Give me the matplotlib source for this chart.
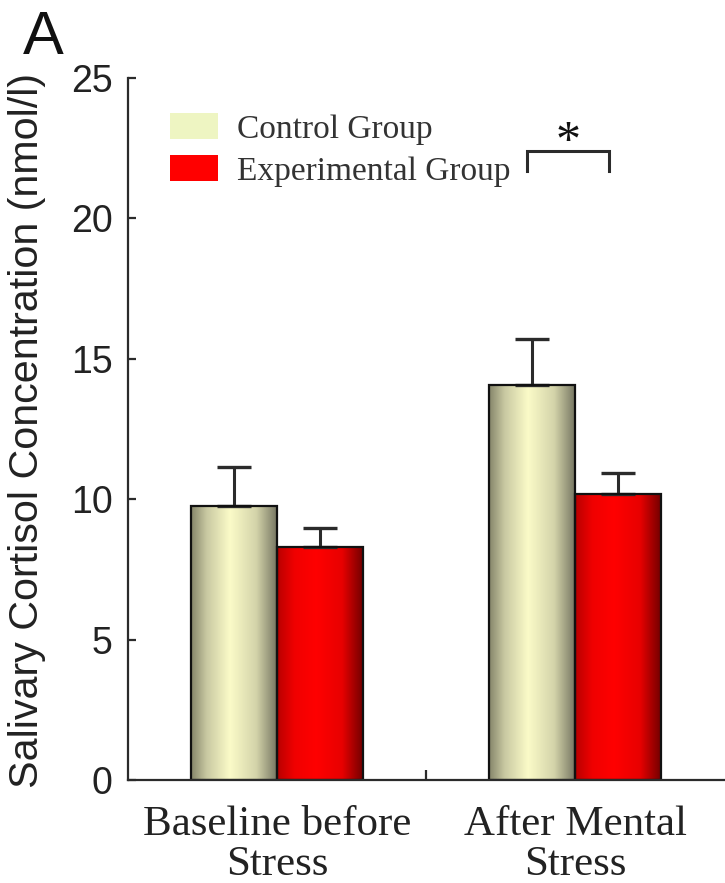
import numpy as np
import matplotlib
matplotlib.use("Agg")
import matplotlib.pyplot as plt
from matplotlib.colors import LinearSegmentedColormap
from matplotlib.patches import Rectangle

# ---------- data ----------
conditions = ["Baseline before\nStress", "After Mental\nStress"]
groups = ["Control Group", "Experimental Group"]
control_mean = [9.75, 14.05]
control_se = [1.4, 1.65]
exp_mean = [8.3, 10.2]
exp_se = [0.67, 0.75]

# significance bracket over the second condition
sig_x = [1.34, 1.615]
sig_y = [21.7, 22.4]
sig_label = "*"

# ---------- styles ----------
SERIF = "Liberation Serif"
SANS = "Liberation Sans"
INK = "#2b2b2b"
legend_colors = ["#eef5c2", "#ff0000"]
shade_control = LinearSegmentedColormap.from_list(
    "ctl", [(0.0, "#85856a"), (0.18, "#c9c9a2"), (0.45, "#fbfbc8"),
            (0.75, "#d4d4aa"), (1.0, "#737360")])
shade_exp = LinearSegmentedColormap.from_list(
    "exp", [(0.0, "#b80000"), (0.2, "#f00000"), (0.45, "#ff0000"),
            (0.75, "#e80000"), (1.0, "#6e0000")])

bar_w = 0.29
x = np.arange(len(conditions)) + 0.5

fig = plt.figure(figsize=(7.25, 8.83), dpi=100)
ax = fig.add_axes([128 / 725, 1 - 780 / 883, 596 / 725, 702 / 883])

# shaded bars: a horizontal gradient image under each outlined bar
grad = np.linspace(0, 1, 256).reshape(1, -1)
for means, ses, cmap, off in [(control_mean, control_se, shade_control, -bar_w / 2),
                              (exp_mean, exp_se, shade_exp, bar_w / 2)]:
    xs = x + off
    for xi, m in zip(xs, means):
        ax.imshow(grad, cmap=cmap, aspect="auto", extent=[xi - bar_w / 2, xi + bar_w / 2, 0, m],
                  zorder=1, interpolation="bilinear")
    ax.bar(xs, means, width=bar_w, facecolor="none", edgecolor="#111111", linewidth=1.6, zorder=2)
    ax.errorbar(xs, means, yerr=[np.zeros(len(ses)), ses], fmt="none", ecolor=INK,
                elinewidth=2.2, capsize=12, capthick=2.4, zorder=1.5)

ax.set_xlim(0, 2)
ax.set_ylim(0, 25)

# axes styling
for s in ["top", "right"]:
    ax.spines[s].set_visible(False)
for s in ["left", "bottom"]:
    ax.spines[s].set_color(INK)
    ax.spines[s].set_linewidth(1.6)

ax.set_yticks([0, 5, 10, 15, 20, 25])
ax.tick_params(axis="y", direction="in", length=6, width=1.6, color=INK, pad=11,
               labelsize=27, labelcolor="#222222")
for lbl in ax.get_yticklabels():
    lbl.set_fontfamily(SANS)

ax.set_xticks([1.0])
ax.set_xticklabels([""])
ax.tick_params(axis="x", direction="in", length=7, width=1.6, color=INK)
for xi, name in zip(x, conditions):
    ax.text(xi, -0.036, name, transform=ax.get_xaxis_transform(), ha="center", va="top",
            fontsize=31, family=SERIF, color="#222222", linespacing=1.05)

fig.text(27 / 725, 1 - 431 / 883, "Salivary Cortisol Concentration (nmol/l)", rotation=90,
         ha="center", va="center", fontsize=29.7, family=SANS, color="#222222")

# legend
for i, (name, col) in enumerate(zip(groups, legend_colors)):
    yc = (780 - (126 + 42 * i)) / 702
    ax.add_patch(Rectangle((42 / 596, yc - 13 / 702), 48 / 596, 26 / 702, transform=ax.transAxes,
                           facecolor=col, edgecolor="none", clip_on=False))
    ax.text(109 / 596, yc - 4 / 702, name, transform=ax.transAxes, ha="left", va="center",
            fontsize=24, family=SERIF, color="#333333")

# significance bracket
ax.plot([sig_x[0], sig_x[0], sig_x[1], sig_x[1]], [sig_y[0], sig_y[1], sig_y[1], sig_y[0]],
        color=INK, linewidth=2.2, solid_joinstyle="miter")
ax.text(np.mean(sig_x), sig_y[1] - 0.52, sig_label, ha="center", va="bottom",
        fontsize=36, family=SERIF, color="#111111")

fig.text(23 / 725, 1 - 10 / 883, "A", ha="left", va="top", fontsize=44, family=SANS, color="#111111")

fig.savefig("out.png", dpi=100)
